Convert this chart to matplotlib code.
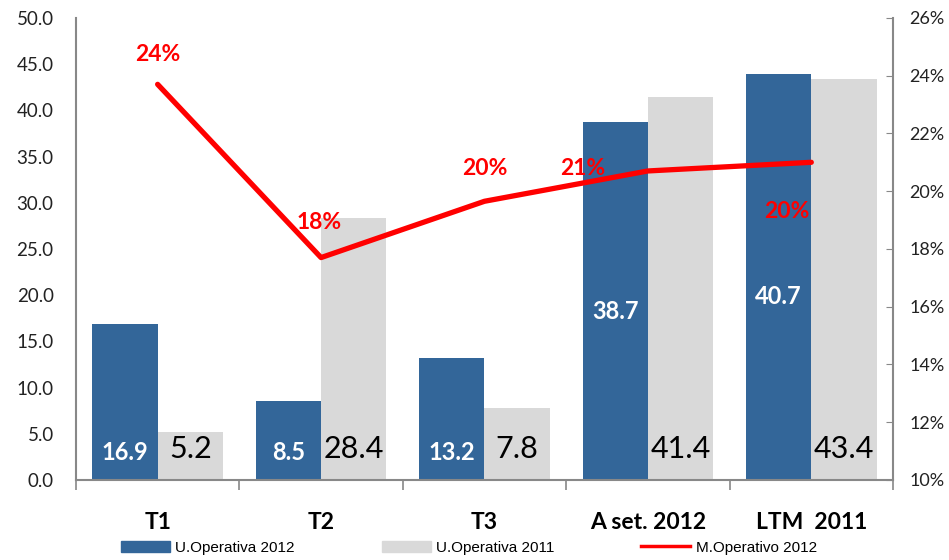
import matplotlib.pyplot as plt
import numpy as np
from matplotlib.patches import Patch
from matplotlib.lines import Line2D

categories = ['T1', 'T2', 'T3', 'A set. 2012', 'LTM  2011']
u_op_2012 = [16.9, 8.5, 13.2, 38.7, 43.9]
u_op_2011 = [5.2, 28.4, 7.8, 41.4, 43.4]
labels_2012 = ['16.9', '8.5', '13.2', '38.7', '40.7']
labels_2011 = ['5.2', '28.4', '7.8', '41.4', '43.4']
m_op_2012 = [23.7, 17.7, 19.65, 20.7, 21.0]
m_labels = ['24%', '18%', '20%', '21%', '20%']

BLUE = '#336699'
GREY = '#D9D9D9'
RED = '#FF0000'
FONT = 'Lato'

fig = plt.figure(figsize=(9.49, 5.60), dpi=100)
ax = fig.add_axes([0.080, 0.143, 0.861, 0.825])
x = np.arange(len(categories))
w = 0.4

ax.bar(x - w / 2, u_op_2012, w, color=BLUE, zorder=2)
ax.bar(x + w / 2, u_op_2011, w, color=GREY, zorder=2)
ax.set_xlim(-0.5, len(categories) - 0.5)
ax.set_ylim(0, 50)
ax.set_yticks(np.arange(0, 50.1, 5))
ax.set_yticklabels([f'{v:.1f}' for v in np.arange(0, 50.1, 5)],
                   fontfamily=FONT, fontsize=13.5, color='#222222')
ax.tick_params(axis='y', length=0, pad=16)
ax.set_xticks(np.arange(-0.5, len(categories), 1))
ax.set_xticklabels([])
ax.tick_params(axis='x', length=7, color='#888888', width=1.2)
for s in ['top', 'right']:
    ax.spines[s].set_visible(False)
ax.spines['left'].set_color('#888888')
ax.spines['bottom'].set_color('#888888')
ax.spines['left'].set_linewidth(1.5)
ax.spines['bottom'].set_linewidth(1.5)

for i, c in enumerate(categories):
    ax.text(x[i], -4.6, c, ha='center', va='center', fontfamily=FONT,
            fontweight='bold', fontsize=16.5, color='black')

# etiquetas de barras
label_y_2012 = [3.0, 3.0, 3.0, 18.2, 19.8]
for i in range(len(categories)):
    ax.text(x[i] - w / 2, label_y_2012[i], labels_2012[i], ha='center', va='center',
            fontfamily=FONT, fontweight='bold', fontsize=17, color='white', zorder=3)
    ax.text(x[i] + w / 2, 3.3, labels_2011[i], ha='center', va='center',
            fontfamily=FONT, fontsize=22, color='black', zorder=3)

ax2 = ax.twinx()
ax2.set_ylim(10, 26)
ax2.set_yticks(np.arange(10, 26.1, 2))
ax2.set_yticklabels([f'{int(v)}%' for v in np.arange(10, 26.1, 2)],
                    fontfamily=FONT, fontsize=13, color='#222222')
ax2.tick_params(axis='y', direction='in', length=5, color='#888888', pad=12)
for s in ['top', 'left', 'bottom']:
    ax2.spines[s].set_visible(False)
ax2.spines['right'].set_color('#888888')
ax2.spines['right'].set_linewidth(1.5)
ax2.plot(x, m_op_2012, color=RED, linewidth=3.8, solid_capstyle='round', zorder=4)

# posiciones de las etiquetas del margen (x, y en eje derecho)
m_label_pos = [(0.0, 24.75), (0.99, 18.9), (2.0, 20.8), (2.6, 20.8), (3.85, 19.3)]
for (xx, yy), t in zip(m_label_pos, m_labels):
    ax2.text(xx, yy, t, ha='center', va='center', fontfamily=FONT,
             fontweight='bold', fontsize=16.5, color=RED, zorder=5)

handles = [Patch(color=BLUE), Patch(color=GREY), Line2D([0], [0], color=RED, lw=2.5)]
names = ['U.Operativa 2012', 'U.Operativa 2011', 'M.Operativo 2012']
fig.legend(handles, names, loc='center', bbox_to_anchor=(0.494, 0.022), ncol=3,
           frameon=False, prop={'family': 'Liberation Sans', 'size': 11},
           handlelength=3.2, handleheight=0.75, columnspacing=5.7, handletextpad=0.35)

fig.savefig('out.png', dpi=100)
